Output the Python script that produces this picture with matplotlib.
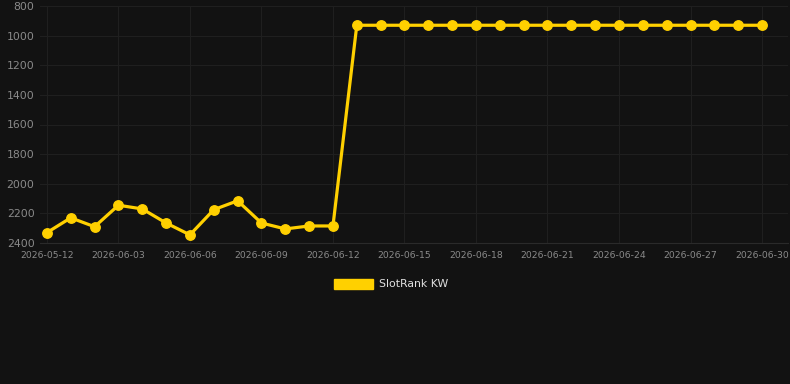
import matplotlib
matplotlib.use("Agg")
import matplotlib.pyplot as plt
from matplotlib.patches import Patch

# Data
dates = ['2026-05-12', '2026-06-01', '2026-06-02', '2026-06-03', '2026-06-04',
         '2026-06-05', '2026-06-06', '2026-06-07', '2026-06-08', '2026-06-09',
         '2026-06-10', '2026-06-11', '2026-06-12', '2026-06-13', '2026-06-14',
         '2026-06-15', '2026-06-16', '2026-06-17', '2026-06-18', '2026-06-19',
         '2026-06-20', '2026-06-21', '2026-06-22', '2026-06-23', '2026-06-24',
         '2026-06-25', '2026-06-26', '2026-06-27', '2026-06-28', '2026-06-29',
         '2026-06-30']
rank_kw = [2330, 2230, 2290, 2145, 2170, 2265, 2345, 2175, 2115, 2265,
           2305, 2285, 2285, 930, 930, 930, 930, 930, 930, 930,
           930, 930, 930, 930, 930, 930, 930, 930, 930, 930, 930]

BG = '#121212'
GOLD = '#FFD000'
TICK = '#8a8a8a'
GRID = '#1f1f1f'

fig = plt.figure(figsize=(7.9, 3.84), dpi=100, facecolor=BG)
ax = fig.add_axes([40 / 790, 1 - 243 / 384, 748 / 790, 237 / 384], facecolor=BG)

x = list(range(len(dates)))
ax.plot(x, rank_kw, color=GOLD, linewidth=2.3, marker='o', markersize=6.8,
        markerfacecolor=GOLD, markeredgecolor=GOLD, zorder=3)

ax.set_ylim(2400, 800)
ax.set_yticks(range(800, 2401, 200))
ax.set_xlim(-0.29, 31.09)
ax.set_xticks(x[::3])
ax.set_xticklabels(dates[::3])

ax.grid(True, color=GRID, linewidth=0.8)
ax.set_axisbelow(True)
for s in ['top', 'right', 'left']:
    ax.spines[s].set_visible(False)
ax.spines['bottom'].set_color('#2a2a2a')

ax.tick_params(axis='y', length=0, pad=4, labelsize=7.8, labelcolor=TICK)
ax.tick_params(axis='x', length=0, pad=6, labelsize=6.7, labelcolor=TICK)

handle = Patch(facecolor=GOLD, edgecolor=GOLD, label='SlotRank KW')
fig.legend(handles=[handle], loc='center', bbox_to_anchor=(0.495, 1 - 284 / 384),
           frameon=False, fontsize=7.8, labelcolor='#e0e0e0',
           handlelength=3.6, handleheight=1.1, handletextpad=0.5)

fig.savefig('out.png', dpi=100, facecolor=BG)
